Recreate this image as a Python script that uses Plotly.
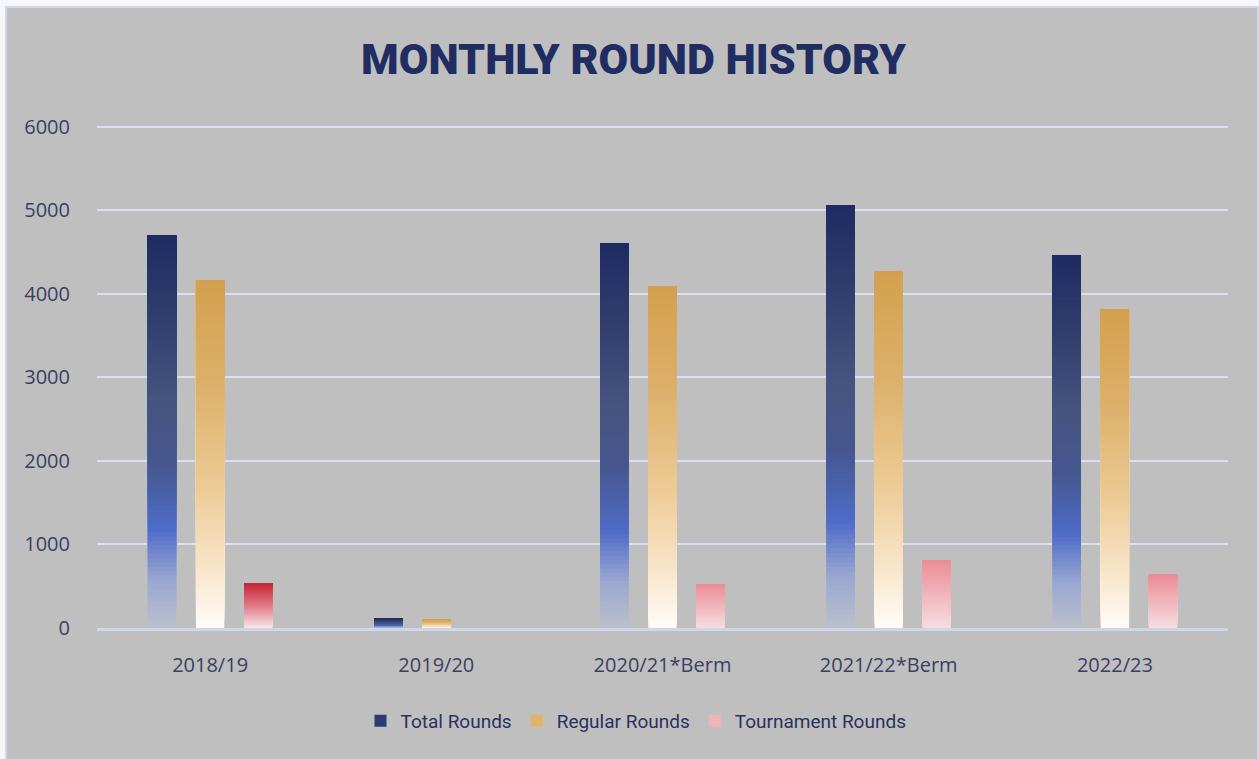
import plotly.graph_objects as go

categories = ["2018/19", "2019/20", "2020/21*Berm", "2021/22*Berm", "2022/23"]
total_rounds = [4700, 115, 4600, 5060, 4455]
regular_rounds = [4160, 105, 4085, 4265, 3810]
tournament_rounds = [535, 0, 525, 810, 635]
y_ticks = [0, 1000, 2000, 3000, 4000, 5000, 6000]

# gradient stops (fraction of bar height from bottom -> colour)
total_stops = [(0.0, "#bcc0cc"), (0.12, "#9aa8d2"), (0.25, "#4f6cc8"), (0.42, "#46578f"),
               (0.58, "#465480"), (0.8, "#2f3d6e"), (1.0, "#1f2b63")]
regular_stops = [(0.0, "#fffdf8"), (0.15, "#f9e8cf"), (0.4, "#edcb96"), (0.7, "#ddb06a"),
                 (1.0, "#d3a04e")]
pink_stops = [(0.0, "#f5dde0"), (1.0, "#ec8d96")]
red_stops = [(0.0, "#f6e6e8"), (0.5, "#e27a85"), (1.0, "#c52537")]
tournament_stops = [red_stops, pink_stops, pink_stops, pink_stops, pink_stops]


def hex2rgb(h):
    h = h.lstrip("#")
    return tuple(int(h[i:i + 2], 16) for i in (0, 2, 4))


def grad(stops, f):
    for (f0, c0), (f1, c1) in zip(stops[:-1], stops[1:]):
        if f <= f1:
            t = (f - f0) / (f1 - f0) if f1 > f0 else 0
            a, b = hex2rgb(c0), hex2rgb(c1)
            r = [round(a[i] + (b[i] - a[i]) * t) for i in range(3)]
            return "rgb(%d,%d,%d)" % tuple(r)
    return stops[-1][1]


fig = go.Figure()
N = 90
W = 0.125
series = [
    ("Total Rounds", total_rounds, [total_stops] * 5, -0.275, "#2d3a75"),
    ("Regular Rounds", regular_rounds, [regular_stops] * 5, -0.0625, "#e2b46a"),
    ("Tournament Rounds", tournament_rounds, tournament_stops, 0.15, "#f1b3ba"),
]
for name, vals, stops, off, lcol in series:
    for k in range(N):
        f = k / N
        bases = [v * f for v in vals]
        heights = [v - b for v, b in zip(vals, bases)]
        cols = [grad(s, (k + 0.5) / N) for s in stops]
        fig.add_trace(go.Bar(
            x=categories, y=heights, base=bases, offset=off, width=W,
            marker=dict(color=cols, line=dict(width=0)),
            showlegend=False, hoverinfo="skip"))
    fig.add_trace(go.Bar(
        x=[categories[0]], y=[0], offset=off, width=W, name=name,
        marker=dict(color=lcol, line=dict(width=0)), showlegend=True, hoverinfo="skip"))

TOP = 124
H = 759 - TOP - 131
# background frame
fig.add_shape(type="rect", xref="paper", yref="paper",
              x0=(6 - 97) / 1131, x1=(1258 - 97) / 1131,
              y0=(628 - 762) / H, y1=(628 - 7) / H,
              fillcolor="#bfbfbf", line=dict(color="#d2d6ec", width=2), layer="below")

fig.update_layout(
    width=1259, height=759,
    margin=dict(l=97, r=31, t=TOP, b=131),
    paper_bgcolor="#f6f6fb",
    plot_bgcolor="rgba(0,0,0,0)",
    barmode="overlay",
    title=dict(text="MONTHLY ROUND HISTORY", x=633.5 / 1259,
               xanchor="center", y=1 - 59 / 759, yanchor="middle",
               font=dict(family="Roboto", size=43, weight=900, color="#1f2d63")),
    showlegend=True,
    legend=dict(orientation="h", x=(636 - 97) / 1131, xanchor="center",
                y=(628 - 721) / H, yanchor="middle",
                font=dict(family="Roboto", size=19, color="#2b3160"),
                bgcolor="rgba(0,0,0,0)"),
    xaxis=dict(type="category", showgrid=False, showline=True, linecolor="#d0d5ee", linewidth=3,
               ticks="outside", ticklen=0, ticklabelstandoff=17,
               tickfont=dict(family="Open Sans", size=20, color="#3b3f63"), fixedrange=True),
    yaxis=dict(range=[0, 6030], tickvals=y_ticks, showgrid=True, gridcolor="#dcdff0", gridwidth=2,
               zeroline=False, showline=False, ticks="outside", ticklen=0, ticklabelstandoff=22,
               tickfont=dict(family="Open Sans", size=20, color="#3b3f63"), fixedrange=True),
)

fig.write_html("out.html")
